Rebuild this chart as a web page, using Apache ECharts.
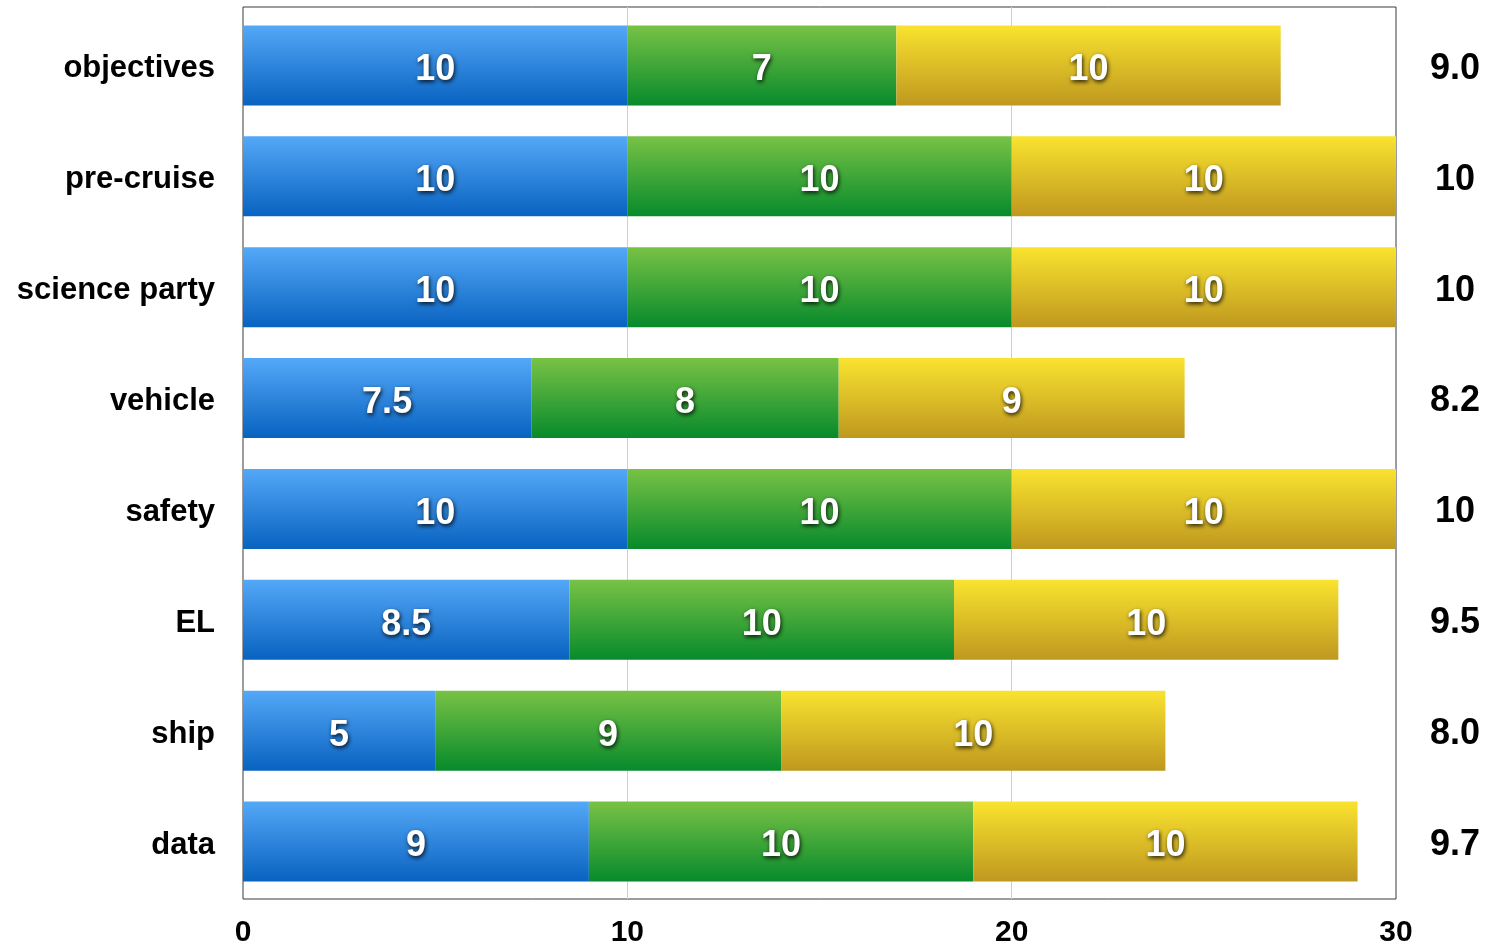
<!DOCTYPE html>
<html><head><meta charset="utf-8">
<script src="https://cdn.jsdelivr.net/npm/echarts@6/dist/echarts.min.js"></script>
<style>html,body{margin:0;padding:0;background:#fff}#c{width:1489px;height:948px}</style>
</head><body><div id="c"></div>
<script>
const categories = ['objectives','pre-cruise','science party','vehicle','safety','EL','ship','data'];
const blueValues = [10, 10, 10, 7.5, 10, 8.5, 5, 9];
const greenValues = [7, 10, 10, 8, 10, 10, 9, 10];
const yellowValues = [10, 10, 10, 9, 10, 10, 10, 10];
const averageLabels = ['9.0','10','10','8.2','10','9.5','8.0','9.7'];
const xTicks = {min: 0, max: 30, interval: 10};

const FONT = '"Liberation Sans", Arial, Helvetica, sans-serif';
function grad(top, bottom){
  return new echarts.graphic.LinearGradient(0,0,0,1,[{offset:0,color:top},{offset:1,color:bottom}]);
}
const barLabel = {
  show: true, position: 'inside', offset: [0, 5], color: '#fff', fontFamily: FONT, fontWeight: 'bold', fontSize: 36,
  textShadowColor: 'rgba(0,0,0,0.85)', textShadowBlur: 4, textShadowOffsetX: 1, textShadowOffsetY: 2,
  formatter: p => String(p.value)
};
function mk(name, data, top, bottom){
  return {name, type:'bar', stack:'s', data, barWidth: 80, xAxisIndex: 0, yAxisIndex: 0,
    itemStyle:{color: grad(top,bottom)}, label: barLabel, emphasis:{disabled:true}};
}
const chart = echarts.init(document.getElementById('c'), null, {renderer:'canvas'});
chart.setOption({
  animation: false,
  grid: [
    {left: 243, top: 10, width: 1153, height: 887, show: false},
    {left: 243, top: 7, width: 1153, height: 893, show: true, borderColor: '#3a3a3a', borderWidth: 1, backgroundColor: 'transparent'}
  ],
  xAxis: [
    {type:'value', gridIndex: 0, min: xTicks.min, max: xTicks.max, interval: xTicks.interval, show: false},
    {type:'value', gridIndex: 1, min: xTicks.min, max: xTicks.max, interval: xTicks.interval,
      axisLine:{show:false}, axisTick:{show:false},
      splitLine:{show:true, showMinLine:false, showMaxLine:false, lineStyle:{color:'#cfcfcf', width:1}},
      axisLabel:{color:'#000', fontFamily: FONT, fontWeight:'bold', fontSize: 30, margin: 19}}
  ],
  yAxis: [
    {type:'category', gridIndex: 0, data: categories, inverse: true, position:'left',
      axisLine:{show:false}, axisTick:{show:false}, splitLine:{show:false},
      axisLabel:{margin: 28, formatter: v => '{a|' + v + '}',
        rich:{a:{color:'#000', fontFamily: FONT, fontWeight:'bold', fontSize: 31, padding:[7,0,0,0]}}}},
    {type:'category', gridIndex: 0, data: averageLabels, inverse: true, position:'right',
      axisLine:{show:false}, axisTick:{show:false}, splitLine:{show:false},
      axisLabel:{margin: 59, align:'center', formatter: v => '{a|' + v + '}',
        rich:{a:{color:'#000', fontFamily: FONT, fontWeight:'bold', fontSize: 36, padding:[7,0,0,0]}}}},
    {type:'value', gridIndex: 1, min: 0, max: 1, show: false}
  ],
  series: [
    mk('a', blueValues, '#54a8f7', '#0862c0'),
    mk('b', greenValues, '#78c245', '#078a2c'),
    mk('c', yellowValues, '#f9e32f', '#bf981f')
  ]
});
</script></body></html>
